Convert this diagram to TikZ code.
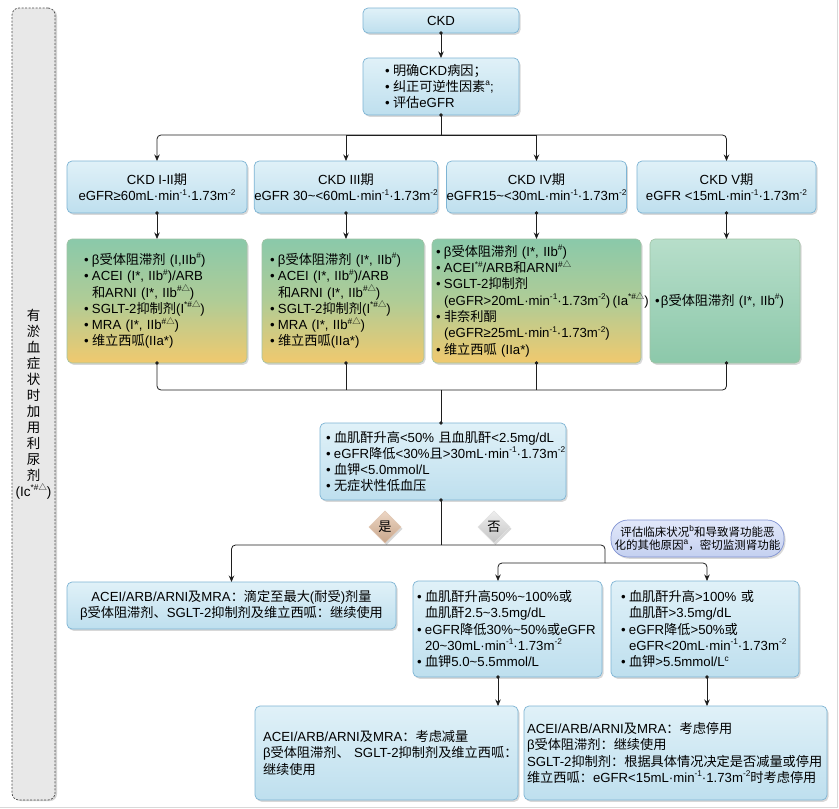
\documentclass[tikz,border=0pt]{standalone}
\usepackage{fontspec}
\setmainfont{Liberation Sans}
\newfontfamily\cjkfont{Noto Sans CJK SC}
\newfontfamily\latfont{Liberation Sans}
\usetikzlibrary{arrows.meta,shapes.geometric,shadows,calc}
\XeTeXinterchartokenstate=1
\newXeTeXintercharclass\cjkcls
\newcount\cjkc
\cjkc="2E80
\loop \XeTeXcharclass\cjkc=\cjkcls \ifnum\cjkc<"9FFF \advance\cjkc by 1 \repeat
\cjkc="FF00
\loop \XeTeXcharclass\cjkc=\cjkcls \ifnum\cjkc<"FFEF \advance\cjkc by 1 \repeat
\XeTeXcharclass"25B3=\cjkcls
\XeTeXinterchartoks 0 \cjkcls = {\cjkfont}
\XeTeXinterchartoks 4095 \cjkcls = {\cjkfont}
\XeTeXinterchartoks \cjkcls 0 = {\latfont}
\XeTeXinterchartoks \cjkcls 4095 = {\latfont}
\hyphenpenalty=10000
\exhyphenpenalty=10000
\newcommand\mybul{\makebox[8pt][l]{•}}
\newcommand\myind{\hspace*{8pt}}
\newcommand\sps[1]{\raisebox{0.42em}{\fontsize{8.3}{8.3}\selectfont #1}}
\definecolor{bbord}{RGB}{125,180,212}
\definecolor{btop}{RGB}{224,241,248}
\definecolor{bbot}{RGB}{190,223,238}
\definecolor{gtop}{RGB}{138,201,170}
\definecolor{gmid}{RGB}{176,204,150}
\definecolor{gbot}{RGB}{240,201,110}
\definecolor{gbord}{RGB}{160,195,165}
\definecolor{gftop}{RGB}{183,222,202}
\definecolor{gfbot}{RGB}{140,200,170}
\definecolor{otop}{RGB}{226,232,250}
\definecolor{obot}{RGB}{196,208,240}
\definecolor{obord}{RGB}{128,146,210}
\definecolor{ytop}{RGB}{236,214,196}
\definecolor{ybot}{RGB}{200,165,138}
\definecolor{ntop}{RGB}{238,238,238}
\definecolor{nbot}{RGB}{195,195,195}
\definecolor{lfill}{RGB}{232,232,232}
\definecolor{lnk}{RGB}{30,30,30}
\begin{document}
\begin{tikzpicture}[x=1pt,y=-1pt,
  every node/.style={font=\fontsize{13.2}{16.3}\selectfont, inner sep=0pt, outer sep=0pt},
  shad/.style={drop shadow={shadow xshift=1.5pt,shadow yshift=-1.8pt,opacity=0.3}},
  bluebox/.style={shad, rounded corners=5pt, draw=bbord, line width=0.7pt, top color=btop, bottom color=bbot},
  drugbox/.style={shad, rounded corners=5pt, draw=gbord, line width=0.6pt, top color=gtop, bottom color=gbot, middle color=gmid},
  greenbox/.style={shad, rounded corners=5pt, draw=gbord, line width=0.6pt, top color=gftop, bottom color=gfbot},
  ovalbox/.style={shad, rounded corners=17pt, draw=obord, line width=0.7pt, top color=otop, bottom color=obot, font=\fontsize{11.5}{13}\selectfont, align=center},
  yesdiam/.style={shad, diamond, aspect=1, minimum width=32pt, minimum height=32pt, draw=ytop!70!ybot, line width=0.5pt, top color=ytop, bottom color=ybot},
  nodiam/.style={shad, diamond, aspect=1, minimum width=32pt, minimum height=32pt, draw=ntop!70!nbot, line width=0.5pt, top color=ntop, bottom color=nbot},
  leftbox/.style={drop shadow={shadow xshift=2pt,shadow yshift=-1pt,opacity=0.35}, rounded corners=7pt, draw=black!70, dashed, dash pattern=on 2pt off 1.5pt, line width=0.7pt, fill=lfill, align=center, font=\fontsize{13.5}{16}\selectfont},
  conn/.style={draw=lnk, line width=0.8pt},
  dotarrow/.style={conn, shorten <=-1.6pt, {Circle[length=3.4pt]}-{Stealth[length=6.5pt,width=5.5pt]}},
  dotline/.style={conn, shorten <=-1.6pt, {Circle[length=3.4pt]}-},
  arrowonly/.style={conn, -{Stealth[length=6.5pt,width=5.5pt]}},
  lineonly/.style={conn},
  lineenddot/.style={conn, shorten >=-1.6pt, -{Circle[length=3.4pt]}}
]
\useasboundingbox (0,0) rectangle (839,809);
\fill[white] (0,0) rectangle (839,809);
\draw[black!15, line width=0.8pt] (837,0) -- (837,807) -- (0,807);

% left dashed box
\node[leftbox, minimum width=43pt, minimum height=792pt] (lb) at (33.5,404)
 {有\\淤\\血\\症\\状\\时\\加\\用\\利\\尿\\剂\\(Ic\sps{*\#△})};

% top
\node[bluebox, minimum width=156pt, minimum height=25pt] (ckd) at (441,20.5) {CKD};
\node[bluebox, minimum width=156pt, minimum height=57pt, text width=112pt, align=left] (cause) at (441,86.5)
 {\mybul 明确CKD病因；\\\mybul 纠正可逆性因素\sps{a};\\\mybul 评估eGFR};

% stages
\node[bluebox, minimum width=180pt, minimum height=52pt, align=center] (s1) at (157,187)
 {CKD I-II期\\eGFR≥60mL·min\sps{-1}·1.73m\sps{-2}};
\node[bluebox, minimum width=180pt, minimum height=52pt, align=center] (s2) at (346,187)
 {CKD III期\\eGFR 30\textasciitilde<60mL·min\sps{-1}·1.73m\sps{-2}};
\node[bluebox, minimum width=179pt, minimum height=52pt, align=center] (s3) at (536.5,187)
 {CKD IV期\\eGFR15\textasciitilde<30mL·min\sps{-1}·1.73m\sps{-2}};
\node[bluebox, minimum width=179pt, minimum height=52pt, align=center] (s4) at (726.5,187)
 {CKD V期\\eGFR <15mL·min\sps{-1}·1.73m\sps{-2}};

% drugs
\node[drugbox, minimum width=180pt, minimum height=124pt, text width=146pt, align=left] (d1) at (157,301)
 {\mybul β受体阻滞剂~(I,IIb\sps{\#})\\
  \mybul ACEI~(I*,~IIb\sps{\#})/ARB\\
  \myind 和ARNI~(I*,~IIb\sps{\#△})\\
  \mybul SGLT-2抑制剂(I\sps{*\#△})\\
  \mybul MRA~(I*,~IIb\sps{\#△})\\
  \mybul 维立西呱(IIa*)};
\node[drugbox, minimum width=162pt, minimum height=124pt, text width=146pt, align=left] (d2) at (343,301)
 {\mybul β受体阻滞剂~(I*,~IIb\sps{\#})\\
  \mybul ACEI~(I*,~IIb\sps{\#})/ARB\\
  \myind 和ARNI~(I*,~IIb\sps{\#△})\\
  \mybul SGLT-2抑制剂(I\sps{*\#△})\\
  \mybul MRA~(I*,~IIb\sps{\#△})\\
  \mybul 维立西呱(IIa*)};
\node[drugbox, minimum width=209pt, minimum height=124pt, text width=201pt, align=left] (d3) at (536.5,301)
 {\mybul β受体阻滞剂~(I*,~IIb\sps{\#})\\
  \mybul ACEI\sps{*\#}/ARB和ARNI\sps{\#△}\\
  \mybul SGLT-2抑制剂\\
  \myind\mbox{(eGFR>20mL·min\sps{-1}·1.73m\sps{-2})\hspace{2.5pt}(Ia\sps{*\#△})}\\
  \mybul 非奈利酮\\
  \myind (eGFR≥25mL·min\sps{-1}·1.73m\sps{-2})\\
  \mybul 维立西呱~(IIa*)};
\node[greenbox, minimum width=150pt, minimum height=124pt, text width=140pt, align=left] (d4) at (725,301)
 {\makebox[6pt][l]{•}β受体阻滞剂~(I*,~IIb\sps{\#})};

% criteria
\node[bluebox, minimum width=246pt, minimum height=77pt, text width=234pt, align=left] (crit) at (443,461.5)
 {\mybul 血肌酐升高<50\%~且血肌酐<2.5mg/dL\\
  \mybul eGFR降低<30\%且>30mL·min\sps{-1}·1.73m\sps{-2}\\
  \mybul 血钾<5.0mmol/L\\
  \mybul 无症状性低血压};

\node[yesdiam] (dy) at (385,527) {是};
\node[nodiam] (dn) at (494,527) {否};
\node[ovalbox, minimum width=173pt, minimum height=37pt] (ov) at (697.5,538.5)
 {评估临床状况\sps{b}和导致肾功能恶\\化的其他原因\sps{a}，密切监测肾功能};

% second level
\node[bluebox, minimum width=329pt, minimum height=47pt, align=center] (yes) at (231.5,605.5)
 {ACEI/ARB/ARNI及MRA：滴定至最大(耐受)剂量\\β受体阻滞剂、SGLT-2抑制剂及维立西呱：继续使用};
\node[bluebox, minimum width=189pt, minimum height=96pt, text width=181pt, align=left] (m1) at (507.5,629)
 {\mybul 血肌酐升高50\%\textasciitilde100\%或\\
  \myind 血肌酐2.5\textasciitilde3.5mg/dL\\
  \mybul eGFR降低30\%\textasciitilde50\%或eGFR\\
  \myind 20\textasciitilde30mL·min\sps{-1}·1.73m\sps{-2}\\
  \mybul 血钾5.0\textasciitilde5.5mmol/L};
\node[bluebox, minimum width=188pt, minimum height=96pt, text width=168pt, align=left] (m2) at (705,629)
 {\mybul 血肌酐升高>100\%~或\\
  \myind 血肌酐>3.5mg/dL\\
  \mybul eGFR降低>50\%或\\
  \myind eGFR<20mL·min\sps{-1}·1.73m\sps{-2}\\
  \mybul 血钾>5.5mmol/L\sps{c}};

% bottom
\node[bluebox, minimum width=263pt, minimum height=94pt, text width=247pt, align=left] (b1) at (386.5,753)
 {ACEI/ARB/ARNI及MRA：考虑减量\\β受体阻滞剂、~SGLT-2抑制剂及维立西呱：\\继续使用};
\node[bluebox, minimum width=303pt, minimum height=94pt, text width=297pt, align=left] (b2) at (675.5,753)
 {ACEI/ARB/ARNI及MRA：考虑停用\\β受体阻滞剂：继续使用\\SGLT-2抑制剂：根据具体情况决定是否减量或停用\\维立西呱：eGFR<15mL·min\sps{-1}·1.73m\sps{-2}时考虑停用};

% connectors
\coordinate (j1) at (441,135);
\coordinate (j2) at (441,390);
\coordinate (j3) at (441,545);
\coordinate (j4) at (605,563);
\coordinate (a1) at (498,0);
\coordinate (a2) at (707,0);

\draw[dotarrow] (ckd.south) -- (cause.north);
\draw[dotline] (cause.south) -- (j1);
\draw[arrowonly, rounded corners=4pt] (j1) -| (s1.north);
\draw[arrowonly] (j1) -| (s2.north);
\draw[arrowonly] (j1) -| (s3.north);
\draw[arrowonly, rounded corners=4pt] (j1) -| (s4.north);

\draw[dotarrow] (s1.south) -- (d1.north);
\draw[dotarrow] (s2.south) -- (s2.south |- d2.north);
\draw[dotarrow] (s3.south) -- (d3.north);
\draw[dotarrow] (s4.south) -- (s4.south |- d4.north);

\draw[dotline, rounded corners=4pt] (d1.south) |- (j2);
\draw[dotline] (s2.south |- d2.south) -- (s2.south |- j2);
\draw[dotline] (d3.south) -- (d3.south |- j2);
\draw[dotline, rounded corners=4pt] (s4.south |- d4.south) |- (j2);
\draw[lineenddot] (j2) -- (j2 |- crit.north);

\draw[dotline] (j3 |- crit.south) -- (j3);
\draw[arrowonly, rounded corners=4pt] (j3) -| (yes.north);
\draw[lineonly, rounded corners=4pt] (j3) -| (j4);
\draw[arrowonly, rounded corners=4pt] (j4) -| (a1 |- m1.north);
\draw[arrowonly, rounded corners=4pt] (j4) -| (a2 |- m2.north);

\draw[dotarrow] (a1 |- m1.south) -- (a1 |- b1.north);
\draw[dotarrow] (a2 |- m2.south) -- (a2 |- b2.north);
\end{tikzpicture}
\end{document}
